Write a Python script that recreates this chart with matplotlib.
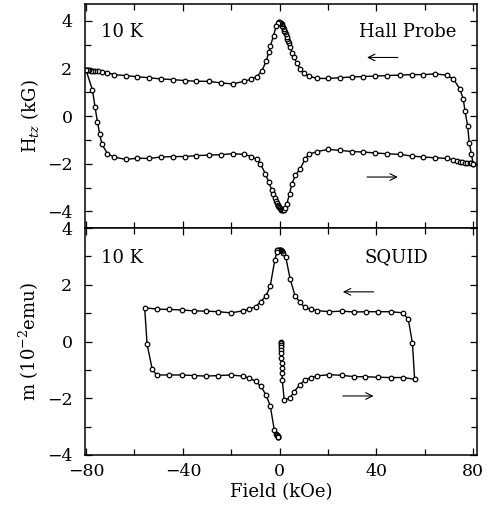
import matplotlib.pyplot as plt
from matplotlib.ticker import MultipleLocator

plt.rcParams['font.family'] = ['DejaVu Serif']
plt.rcParams['mathtext.fontset'] = 'dejavuserif'

# ---- Hall probe (top panel) ----
# branch with field going down (80 -> -80)
hall_dn_x = [80.0, 79.3, 78.4, 77.7, 76.6, 75.9, 74.5, 71.8, 69.0, 64.2, 59.4, 54.6,
             49.8, 44.2, 39.5, 34.6, 29.8, 25.0, 20.2, 15.4, 12.0, 9.9, 8.5, 7.1, 5.8,
             5.1, 4.4, 3.9, 3.5, 3.2, 2.9, 2.6, 2.3, 2.0, 1.7, 1.4, 1.1, 0.8, 0.5, 0.2,
             -0.1, -0.4, -0.8, -1.4, -2.5, -3.8,
             -4.5, -5.5, -7.3, -9.4, -11.7, -14.6, -19.4, -24.2, -29.3, -34.4, -39.2,
             -44.1, -49.2, -54.0, -58.8, -63.6, -68.5, -71.2, -73.5, -75.0, -76.2,
             -77.2, -78.0, -78.7, -79.3, -80.0]
hall_dn_y = [-2.0, -1.6, -1.12, -0.40, 0.23, 0.72, 1.14, 1.56, 1.72, 1.77, 1.74, 1.74,
             1.72, 1.70, 1.68, 1.66, 1.64, 1.61, 1.58, 1.58, 1.68, 1.80, 1.98, 2.22, 2.50,
             2.65, 2.90, 3.05, 3.16, 3.25, 3.34, 3.43, 3.51, 3.59, 3.67, 3.74, 3.80, 3.85,
             3.89, 3.92, 3.93, 3.93, 3.91, 3.80, 3.38, 2.95,
             2.67, 2.33, 1.90, 1.66, 1.55, 1.46, 1.35, 1.39, 1.46, 1.46, 1.49,
             1.53, 1.56, 1.61, 1.65, 1.70, 1.74, 1.82, 1.87, 1.89, 1.90,
             1.91, 1.91, 1.92, 1.92, 1.92]
# branch with field going up (-80 -> 80)
hall_up_x = [-80.0, -77.4, -76.3, -75.3, -74.4, -73.5, -71.2, -68.5, -63.6, -58.8, -54.0,
             -49.2, -44.1, -39.2, -34.4, -29.3, -24.2, -19.4, -14.6, -11.7, -9.4, -8.0,
             -5.9, -4.5, -3.2, -2.6, -2.0, -1.6, -1.2, -0.8, -0.5, -0.2, 0.1, 0.4, 0.7,
             1.0, 1.3, 1.65, 2.2, 3.0, 4.1,
             5.1, 6.5, 8.5, 10.6, 12.0, 15.4, 20.2, 25.0, 29.8, 34.6, 39.5, 44.2, 49.8,
             54.6, 59.4, 64.2, 69.0, 71.8, 73.5, 74.5, 75.5, 76.5, 77.5, 78.5, 79.3, 80.0]
hall_up_y = [1.92, 1.10, 0.37, -0.26, -0.75, -1.17, -1.58, -1.72, -1.82, -1.77, -1.78,
             -1.72, -1.70, -1.70, -1.66, -1.64, -1.62, -1.58, -1.61, -1.70, -1.82, -2.0,
             -2.42, -2.77, -3.12, -3.28, -3.45, -3.55, -3.65, -3.72, -3.78, -3.83, -3.87,
             -3.90, -3.93, -3.95, -3.96, -3.96, -3.88, -3.68, -3.26,
             -2.84, -2.49, -2.21, -1.79, -1.61, -1.49, -1.40, -1.44, -1.49,
             -1.51, -1.55, -1.58, -1.61, -1.68, -1.72, -1.75, -1.78, -1.84, -1.90, -1.92,
             -1.94, -1.95, -1.96, -1.97, -1.98, -2.0]

# ---- SQUID (bottom panel), one continuous sweep ----
squid_x = [0.5, 0.5, 0.5, 0.55, 0.6, 0.65, 0.7, 0.8, 0.9, 1.0, 1.1, 1.9, 4.2, 6.0, 8.3,
           10.4, 12.9, 15.6, 20.5, 25.7, 30.8, 35.3, 40.7, 45.9, 51.0, 55.8,
           54.9, 53.2, 51.0, 45.9, 40.7, 35.9, 30.8, 25.7, 20.5, 15.6, 12.9, 10.4, 8.3,
           6.4, 4.3, 2.5, 1.2, 0.9, 0.6, 0.3, 0.0, -0.3, -0.6, -0.9, -1.2, -2.0, -3.9,
           -5.7, -7.8, -9.9,
           -12.6, -15.1, -20.2, -25.3, -30.5, -35.4, -40.5, -45.7, -50.6, -55.8,
           -54.8, -52.7, -50.9, -45.7, -40.5, -35.4, -30.5, -25.3, -20.2, -15.3, -12.6,
           -9.9, -7.8, -5.7, -3.9, -2.2, -1.3, -1.1, -0.9, -0.8, -0.7, -0.6, -0.5]
squid_y = [-0.03, -0.07, -0.12, -0.19, -0.30, -0.40, -0.58, -0.76, -0.93, -1.12, -1.36,
           -2.06, -2.0, -1.77, -1.53,
           -1.36, -1.27, -1.21, -1.17, -1.19, -1.24, -1.24, -1.26, -1.27, -1.27, -1.33,
           -0.06, 0.78, 1.01, 1.05, 1.05, 1.05, 1.04, 1.07, 1.05, 1.09, 1.13, 1.20, 1.40,
           1.60, 2.22, 2.99, 3.13, 3.18, 3.21, 3.23, 3.24, 3.24, 3.23, 3.21, 3.15, 2.87,
           1.95, 1.60, 1.40, 1.23,
           1.14, 1.08, 1.01, 1.05, 1.07, 1.08, 1.11, 1.13, 1.14, 1.19,
           -0.09, -0.97, -1.18, -1.18, -1.18, -1.20, -1.22, -1.20, -1.18, -1.22, -1.29,
           -1.40, -1.58, -1.87, -2.26, -3.12, -3.26, -3.29, -3.31, -3.33, -3.35, -3.36,
           -3.38]

fig = plt.figure(figsize=(4.88, 5.14), dpi=100)
ax1 = fig.add_axes([0.174, 0.5564, 0.803, 0.4356])
ax2 = fig.add_axes([0.174, 0.1148, 0.803, 0.4416])

mk = dict(color='black', lw=1.0, marker='o', markersize=3.3, markerfacecolor='white',
          markeredgecolor='black', markeredgewidth=0.9)
ax1.plot(hall_dn_x, hall_dn_y, **mk)
ax1.plot(hall_up_x, hall_up_y, **mk)
ax2.plot(squid_x, squid_y, **mk)

for ax in (ax1, ax2):
    ax.set_xlim(-80.5, 81.5)
    ax.xaxis.set_major_locator(MultipleLocator(40))
    ax.xaxis.set_minor_locator(MultipleLocator(20))
    ax.yaxis.set_major_locator(MultipleLocator(2))
    ax.yaxis.set_minor_locator(MultipleLocator(1))
    ax.tick_params(which='both', direction='in', top=True, right=True, width=0.9,
                   labelsize=12.5)
    ax.tick_params(which='major', length=5)
    ax.tick_params(which='minor', length=4.5)
    ax.tick_params(axis='x', which='major', pad=6)
    ax.tick_params(axis='y', which='major', pad=9)
    for s in ax.spines.values():
        s.set_linewidth(1.1)

ax1.set_ylim(-4.7, 4.7)
ax2.set_ylim(-4, 4)
ax1.tick_params(labelbottom=False)

ax1.set_ylabel(r'H$_{tz}$ (kG)', fontsize=13, labelpad=4)
ax2.set_ylabel(r'm (10$^{-2}$emu)', fontsize=13, labelpad=4)
ax2.set_xlabel('Field (kOe)', fontsize=13, labelpad=2)

ax1.text(-74, 3.3, '10 K', fontsize=13)
ax1.text(73, 3.3, 'Hall Probe', fontsize=13, ha='right')
ax2.text(-74, 2.78, '10 K', fontsize=13)
ax2.text(61.5, 2.78, 'SQUID', fontsize=13, ha='right')

arr = dict(arrowstyle='->', lw=0.8, color='black', mutation_scale=12)
ax1.annotate('', xy=(35, 2.46), xytext=(50, 2.46), arrowprops=arr)
ax1.annotate('', xy=(50, -2.56), xytext=(35, -2.56), arrowprops=arr)
ax2.annotate('', xy=(25, 1.75), xytext=(40, 1.75), arrowprops=arr)
ax2.annotate('', xy=(40, -1.92), xytext=(25, -1.92), arrowprops=arr)

fig.savefig('out.png', dpi=100)
